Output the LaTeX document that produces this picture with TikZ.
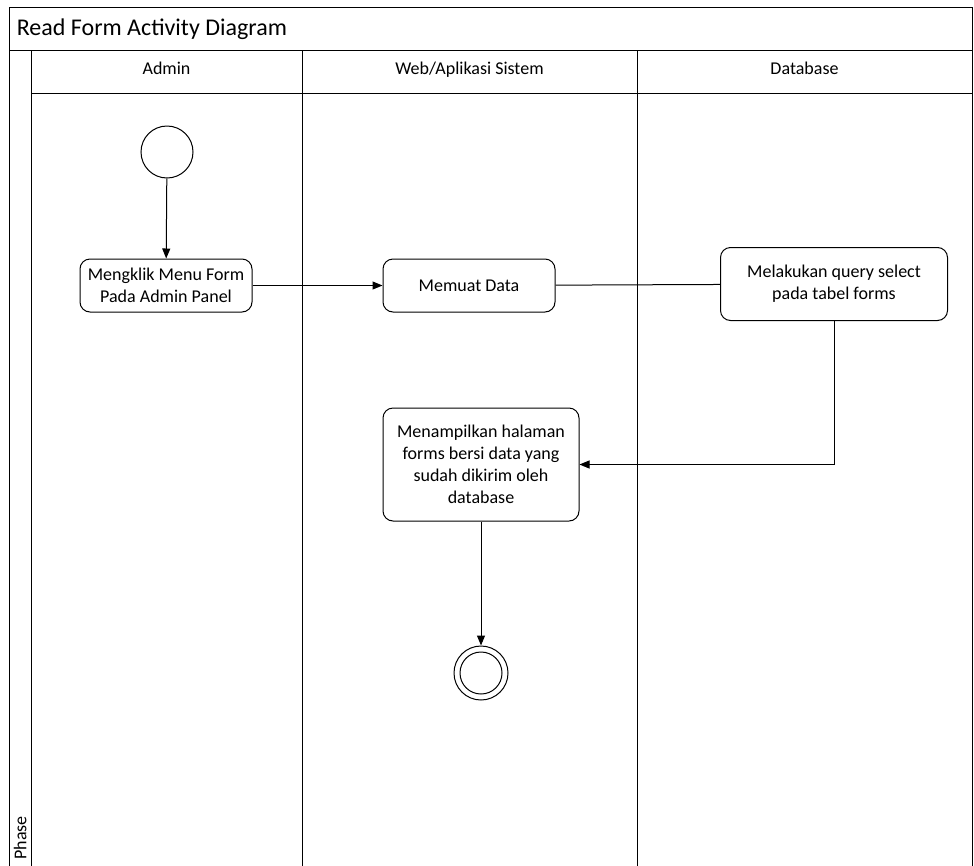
\documentclass[tikz,border=0pt]{standalone}
\usepackage{fontspec}
\setmainfont{Carlito}
\usetikzlibrary{arrows.meta, positioning}

\begin{document}
\begin{tikzpicture}[x=1pt, y=-1pt, line width=1pt]
    % Define styles
    \tikzset{
        header/.style={rectangle, draw=black, minimum height=43pt, inner sep=0pt, text height=0.7em, text depth=0.2em, font=\fontsize{18}{21}\selectfont},
        action/.style={rectangle, rounded corners=10pt, draw=black, inner sep=2pt, align=center, font=\fontsize{18}{22}\selectfont},
        initial/.style={circle, draw=black, minimum size=52pt, inner sep=0pt},
        final/.style={circle, draw=black, minimum size=54pt, inner sep=0pt,
            path picture={\draw (path picture bounding box.center) circle (21pt);}},
        arrow/.style={-{Stealth[length=10pt, width=8pt, inset=0pt]}}
    }

    % Frame
    \useasboundingbox (0,0) rectangle (974,865);
    \draw (9,866) -- (9,7) -- (972,7) -- (972,866);
    \draw (9,50) -- (972,50);
    \draw (31,50) -- (31,866);
    \node[anchor=west, font=\fontsize{24}{28}\selectfont] (title) at (13,29) {Read Form Activity Diagram};
    \node[rotate=90, anchor=south west, inner sep=2pt, font=\fontsize{18}{21}\selectfont] (phase) at (29,862) {Phase};

    % Lanes
    \node[header, minimum width=271pt] (admin) at (166.5,71.5) {Admin};
    \node[header, minimum width=335pt] (web) at (469.5,71.5) {Web/Aplikasi Sistem};
    \node[header, minimum width=335pt] (db) at (804.5,71.5) {Database};
    \draw (302,93) -- (302,866);
    \draw (637,93) -- (637,866);

    % Nodes
    \node[initial] (start) at (167,152) {};
    \node[action, minimum width=172pt, minimum height=53pt] (klik) at (166,285.5) {Mengklik Menu Form\\Pada Admin Panel};
    \node[action, minimum width=172pt, minimum height=53pt] (muat) at (469,285.5) {Memuat Data};
    \node[action, minimum width=227pt, minimum height=73pt] (query) at (834,284) {Melakukan query select\\pada tabel forms};
    \node[action, minimum width=196pt, minimum height=113pt] (tampil) at (481,464.5) {Menampilkan halaman\\forms bersi data yang\\sudah dikirim oleh\\database};
    \node[final] (end) at (481,673) {};

    % Arrows
    \draw[arrow] (start) -- (klik);
    \draw[arrow] (klik) -- (muat);
    \draw (muat) -- (query);
    \draw[arrow] (query.south) |- (tampil.east);
    \draw[arrow] (tampil) -- (end);
\end{tikzpicture}
\end{document}
